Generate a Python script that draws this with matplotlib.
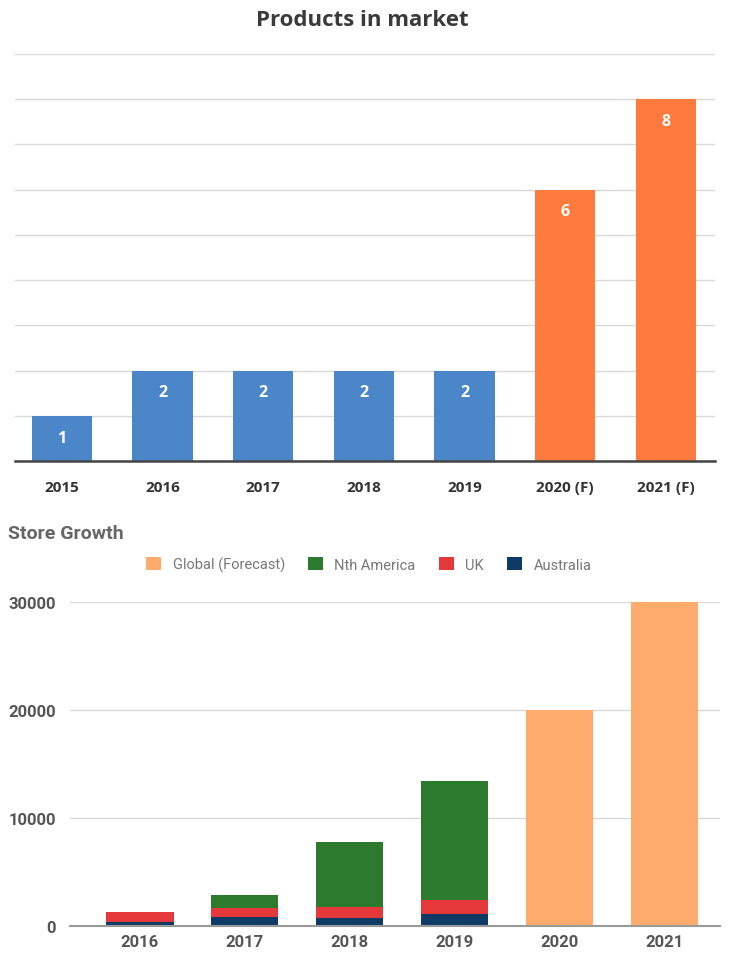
import matplotlib.pyplot as plt
import numpy as np

plt.rcParams['font.family'] = ['Open Sans', 'DejaVu Sans']

# top chart data
years = ['2015', '2016', '2017', '2018', '2019', '2020 (F)', '2021 (F)']
products = [1, 2, 2, 2, 2, 6, 8]
forecast = [False, False, False, False, False, True, True]

# bottom chart data
store_years = ['2016', '2017', '2018', '2019', '2020', '2021']
australia = [400, 800, 750, 1100, 0, 0]
uk = [850, 850, 1050, 1300, 0, 0]
nth_america = [0, 1250, 6000, 11000, 0, 0]
global_fc = [0, 0, 0, 0, 20000, 30000]

blue = '#4A86C8'
orange = '#FF7A3D'
rob = ['Roboto', 'DejaVu Sans']

fig = plt.figure(figsize=(7.29, 9.54), dpi=100)

# ---- Products in market
ax1 = fig.add_axes([0.0206, 0.5157, 0.9602, 0.4266])
x = np.arange(len(years))
cols = [orange if f else blue for f in forecast]
ax1.bar(x, products, width=0.6, color=cols, zorder=3)
for xi, v in zip(x, products):
    ax1.text(xi, v - 0.48, str(v), ha='center', va='center', color='white',
             fontsize=11.5, fontweight='bold', zorder=4)
ax1.set_xlim(-0.467, 6.49)
ax1.set_ylim(0, 9)
ax1.set_yticks(range(0, 10))
ax1.yaxis.grid(True, color='#d9d9d9', linewidth=1, zorder=0)
ax1.tick_params(axis='y', left=False, labelleft=False)
ax1.set_xticks(x)
ax1.set_xticklabels(years, fontsize=11, fontweight='bold', color='#333333')
ax1.tick_params(axis='x', length=0, pad=14)
for s in ['top', 'right', 'left']:
    ax1.spines[s].set_visible(False)
ax1.spines['bottom'].set_color('#444444')
ax1.spines['bottom'].set_linewidth(1.8)
ax1.spines['bottom'].set_zorder(5)
fig.text(0.497, 0.979, 'Products in market', ha='center', va='center',
         fontsize=16, fontweight='bold', color='#3a3a3a')

# ---- Store Growth
ax2 = fig.add_axes([0.096, 0.0283, 0.8916, 0.3397])
x2 = np.arange(len(store_years))
w = 0.64
ax2.bar(x2, global_fc, width=w, color='#FFAB6E', label='Global (Forecast)', zorder=3)
ax2.bar(x2, australia, width=w, color='#0D3B66', label='Australia', zorder=3)
b2 = np.array(australia)
ax2.bar(x2, uk, width=w, bottom=b2, color='#E5383B', label='UK', zorder=3)
b3 = b2 + np.array(uk)
ax2.bar(x2, nth_america, width=w, bottom=b3, color='#2B7A2E', label='Nth America', zorder=3)
ax2.set_xlim(-0.667, 5.53)
ax2.set_ylim(0, 30000)
ax2.set_yticks([0, 10000, 20000, 30000])
ax2.set_yticklabels(['0', '10000', '20000', '30000'], fontsize=12,
                    fontweight='bold', color='#555555', family=rob)
ax2.yaxis.grid(True, color='#d9d9d9', linewidth=1, zorder=0)
ax2.tick_params(axis='y', length=0, pad=10)
ax2.set_xticks(x2)
ax2.set_xticklabels(store_years, fontsize=12, fontweight='bold', color='#555555',
                    family=rob)
ax2.tick_params(axis='x', length=0, pad=6)
for s in ['top', 'right', 'left']:
    ax2.spines[s].set_visible(False)
ax2.spines['bottom'].set_color('#999999')
ax2.spines['bottom'].set_linewidth(1.5)
ax2.spines['bottom'].set_zorder(5)

h, l = ax2.get_legend_handles_labels()
order = [0, 3, 2, 1]
ax2.legend([h[i] for i in order], [l[i] for i in order], loc='center',
           bbox_to_anchor=(0.46, 1.115), ncol=4, frameon=False,
           prop={'family': rob, 'size': 10.5},
           handlelength=1.0, handleheight=1.0, columnspacing=1.6,
           labelcolor='#777777', handletextpad=0.8)
fig.text(0.011, 0.44, 'Store Growth', ha='left', va='center',
         fontsize=14, fontweight='bold', color='#666666', family=rob)

fig.savefig('out.png', dpi=100)
